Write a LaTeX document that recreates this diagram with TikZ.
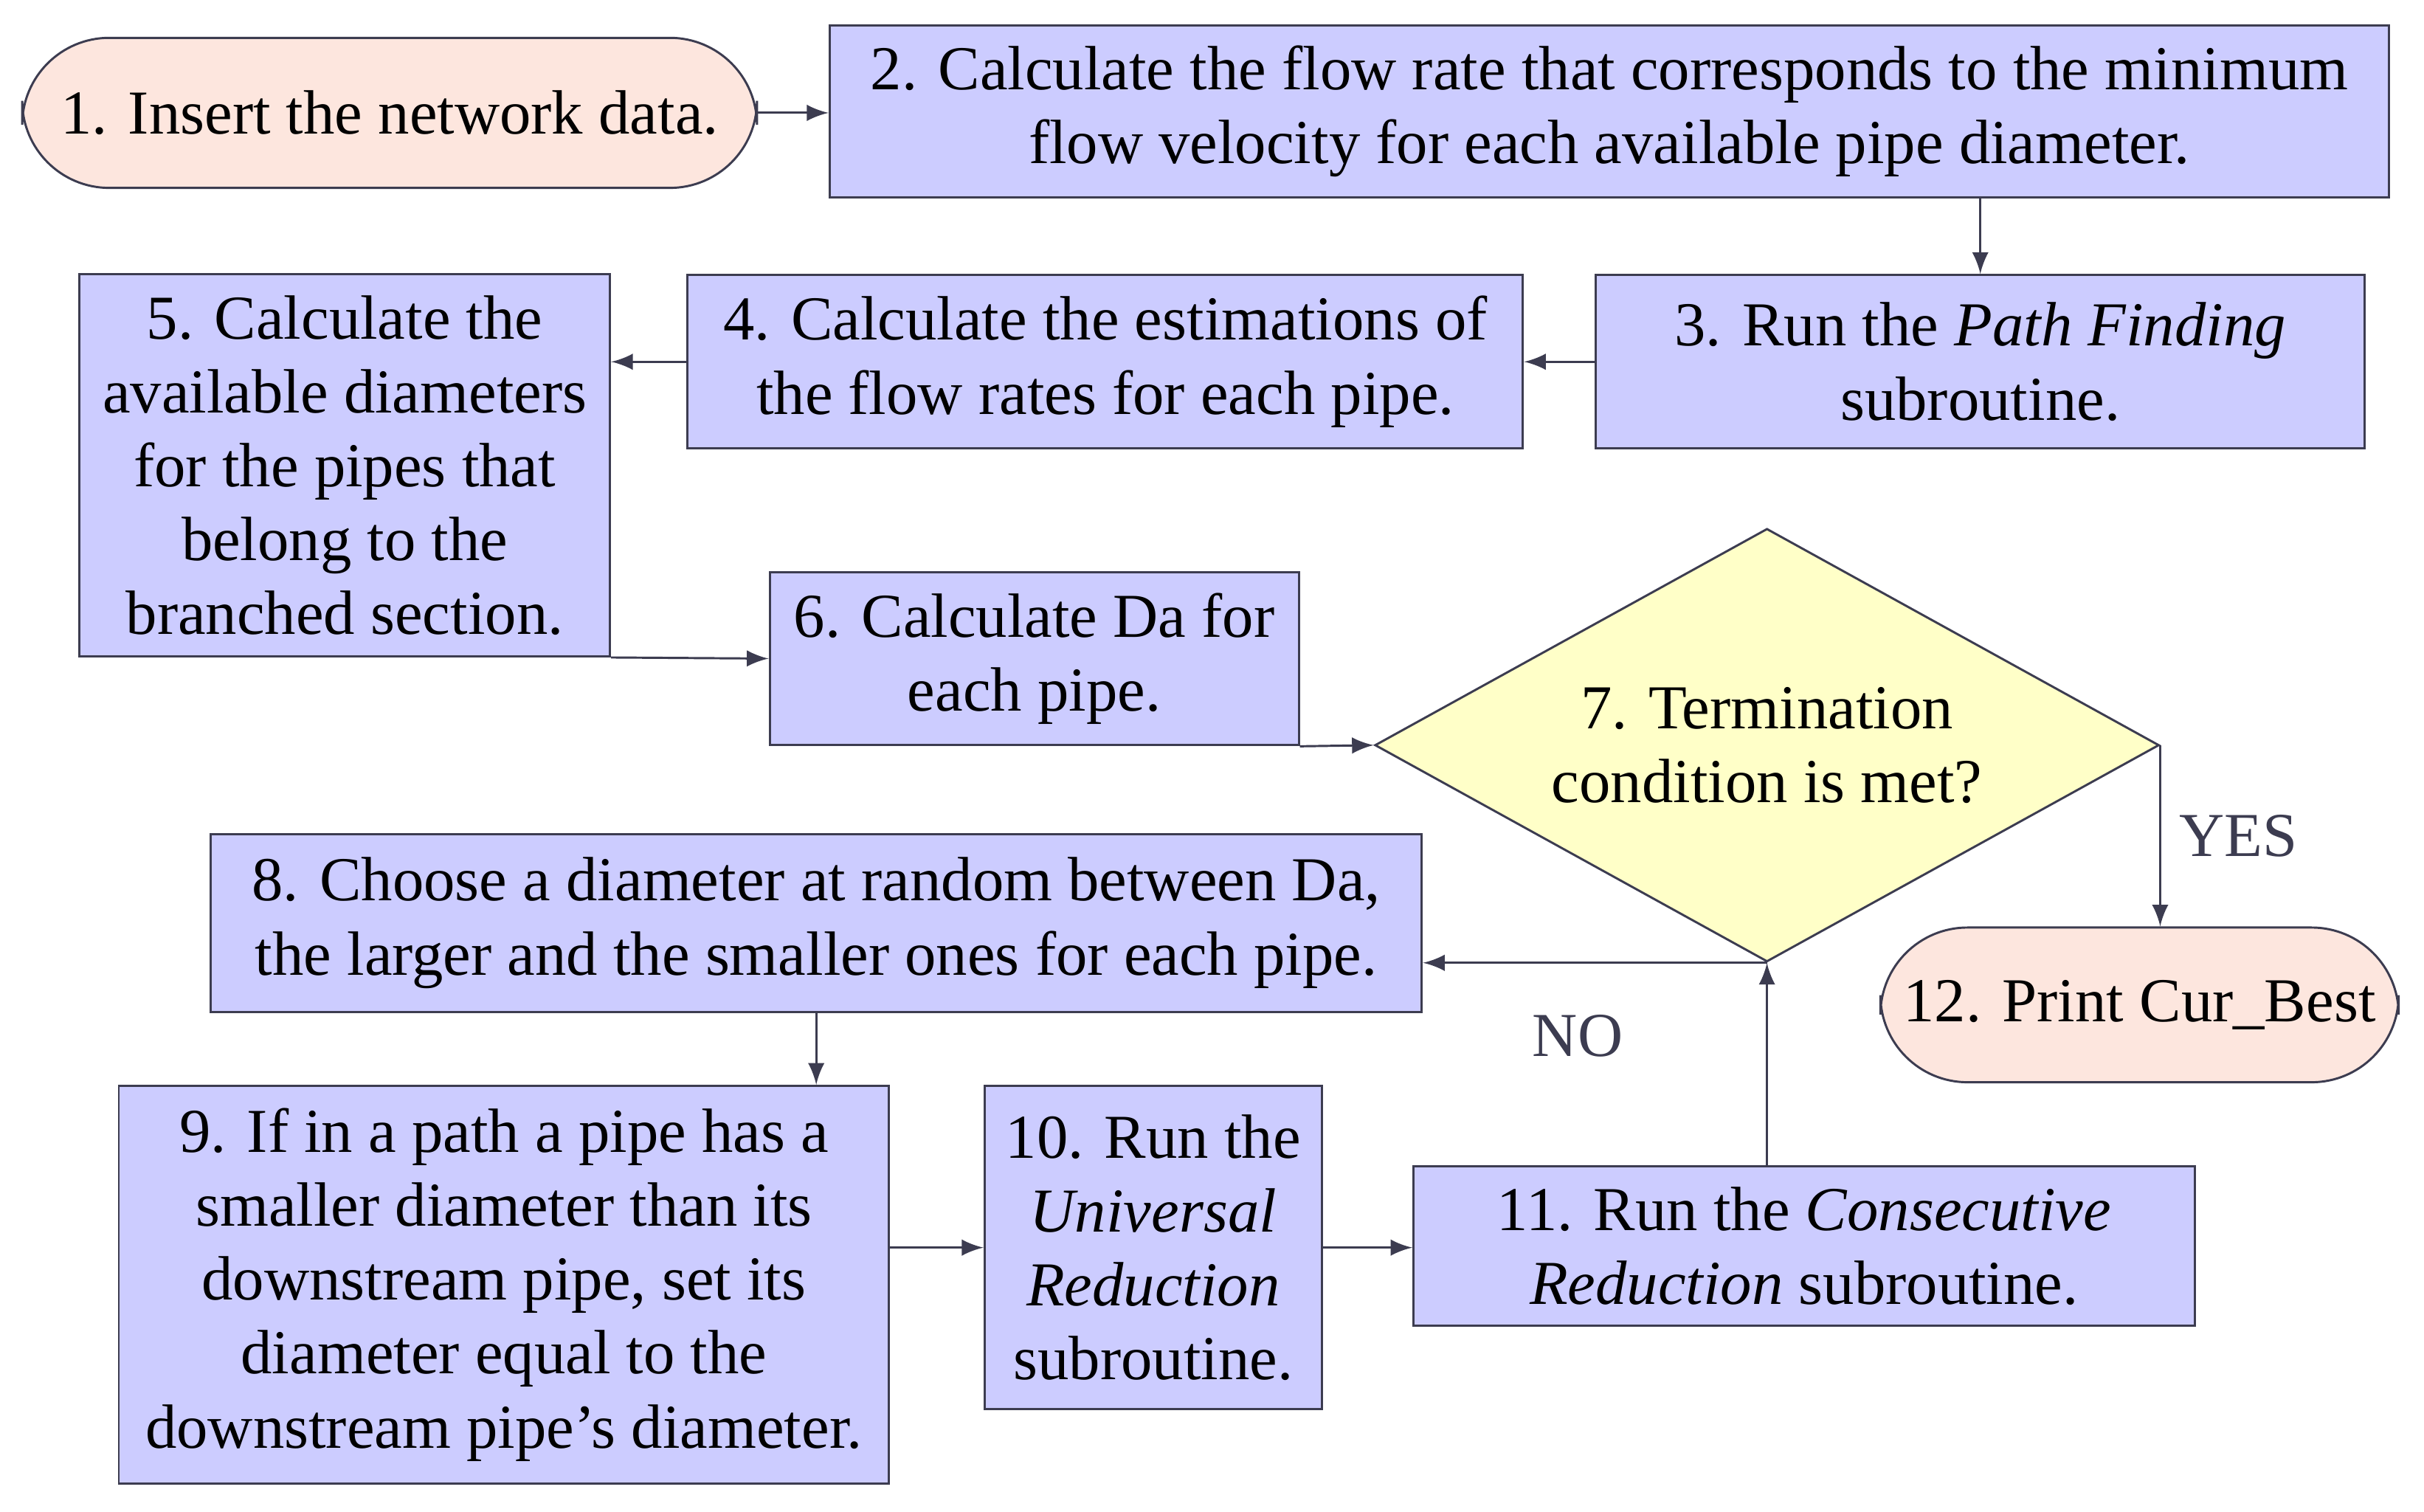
\documentclass[tikz,border=0pt]{standalone}
\usepackage{fontspec}
\setmainfont{Liberation Serif}
\usetikzlibrary{shapes.geometric,arrows}
\definecolor{boxfill}{RGB}{204,204,255}
\definecolor{termfill}{RGB}{253,230,222}
\definecolor{decfill}{RGB}{255,255,200}
\definecolor{edge}{RGB}{60,60,80}
\tikzset{
  box/.style={draw=edge,fill=boxfill,align=center,inner sep=1pt,font=\fontsize{11.5}{13.6}\selectfont},
  term/.style={box,fill=termfill,rounded corners=16pt},
  decision/.style={box,fill=decfill,diamond,aspect=1.8,inner sep=0pt},
  arr/.style={-latex,edge,thin}
}
\begin{document}
\begin{tikzpicture}[x=0.01cm,y=-0.01cm]
    \useasboundingbox (0,0) rectangle (1568,978);

    % The boxes
    \node[term,minimum width=4.75cm,minimum height=0.97cm] (ins) at (252,73) {1. Insert the network data.};
    \node[box,minimum width=10.08cm,minimum height=1.11cm] (flow) at (1041,72) {2. Calculate the flow rate that corresponds to the minimum\\flow velocity for each available pipe diameter.};
    \node[box,minimum width=4.97cm,minimum height=1.12cm] (path) at (1281,234) {3. Run the \textit{Path Finding}\\subroutine.};
    \node[box,minimum width=5.40cm,minimum height=1.12cm] (est) at (715,234) {4. Calculate the estimations of\\the flow rates for each pipe.};
    \node[box,minimum width=3.43cm,minimum height=2.47cm] (avail) at (223,301) {5. Calculate the\\available diameters\\for the pipes that\\belong to the\\branched section.};
    \node[box,minimum width=3.42cm,minimum height=1.12cm] (da) at (669,426) {6. Calculate Da for\\each pipe.};
    \node[decision,minimum width=5.07cm,minimum height=2.80cm] (term) at (1143,482) {7. Termination\\condition is met?};
    \node[box,minimum width=7.83cm,minimum height=1.15cm] (choose) at (528,597) {8. Choose a diameter at random between Da,\\the larger and the smaller ones for each pipe.};
    \node[box,minimum width=4.98cm,minimum height=2.57cm] (fix) at (326,831) {9. If in a path a pipe has a\\smaller diameter than its\\downstream pipe, set its\\diameter equal to the\\downstream pipe's diameter.};
    \node[box,minimum width=2.18cm,minimum height=2.09cm] (univ) at (746,807) {10. Run the\\\textit{Universal}\\\textit{Reduction}\\subroutine.};
    \node[box,minimum width=5.05cm,minimum height=1.03cm] (cons) at (1167,806) {11. Run the \textit{Consecutive}\\\textit{Reduction} subroutine.};
    \node[term,minimum width=3.35cm,minimum height=1.00cm] (print) at (1384,650) {12. Print Cur\_Best};

    % The arrows
    \draw[arr] (ins) -- (flow.west |- ins);
    \draw[arr] (flow.south -| path) -- (path);
    \draw[arr] (path) -- (est);
    \draw[arr] (est.west) -- (avail.east |- est.west);
    \draw[arr] (avail.south east) -- (da.west);
    \draw[arr] (da.south east) -- (term.west);
    \draw[arr] (term.east) -- (print.north -| term.east) node[midway,right,font=\fontsize{11.5}{13.6}\selectfont] {YES};
    \draw[arr] (term.south) -- (choose.east |- term.south) node[pos=0.55,below=6pt,font=\fontsize{11.5}{13.6}\selectfont] {NO};
    \draw[arr] (choose) -- (fix.north -| choose);
    \draw[arr] (fix.east |- univ) -- (univ);
    \draw[arr] (univ) -- (cons.west |- univ);
    \draw[arr] (cons.north -| term.south) -- (term.south);
\end{tikzpicture}
\end{document}
